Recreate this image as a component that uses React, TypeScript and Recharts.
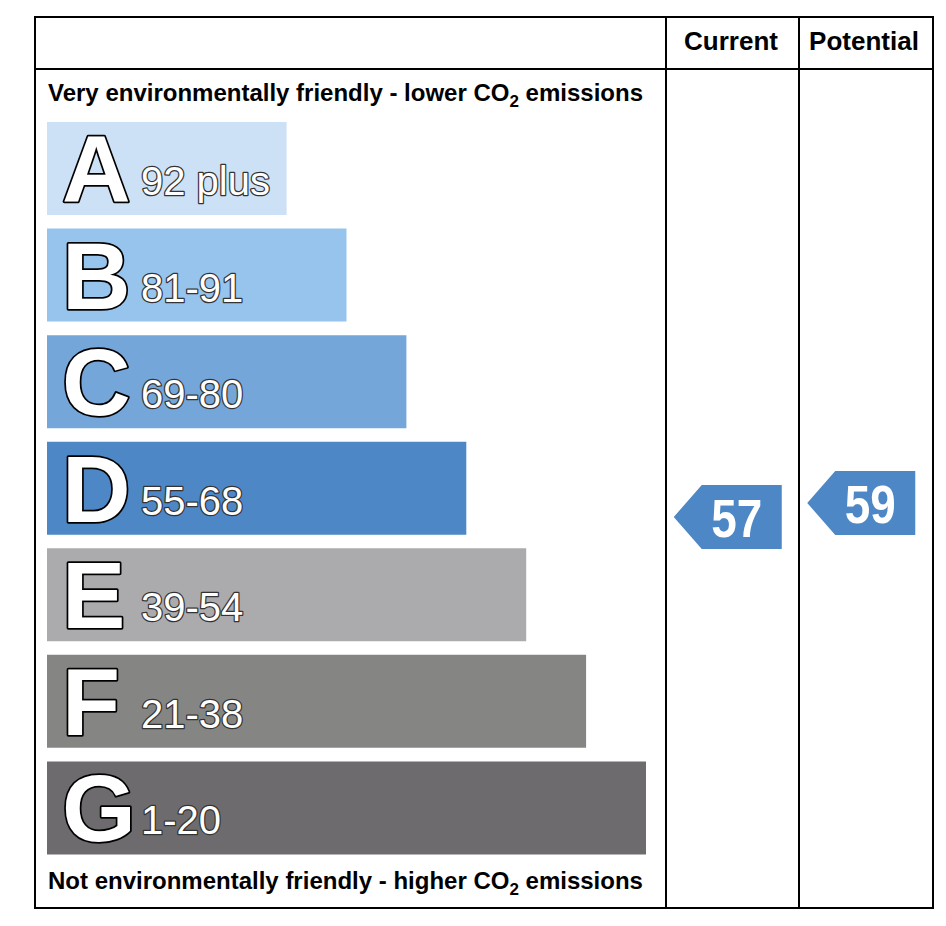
import { BarChart, Bar, XAxis, YAxis, LabelList, ScatterChart, Scatter, Customized } from 'recharts'

// rating bands, top (best) to bottom (worst)
const bands = ['A', 'B', 'C', 'D', 'E', 'F', 'G']
const bandRanges = ['92 plus', '81-91', '69-80', '55-68', '39-54', '21-38', '1-20']
const barLengths = [4, 5, 6, 7, 8, 9, 10]
const bandColors = ['#cce1f5', '#97c4ec', '#75a6d9', '#4d87c5', '#abaaac', '#858684', '#6d6b6e']

// ratings shown in the two right hand columns
const columns = ['Current', 'Potential']
const scores = [57, 59]

const FONT = '"Liberation Sans", Arial, Helvetica, sans-serif'
const W = 946
const H = 926

const barData = bands.map((band, i) => ({
  band,
  range: bandRanges[i],
  length: barLengths[i],
  fill: bandColors[i],
}))

const scoreData = columns.map((col, i) => ({ col, score: scores[i] }))

// eslint-disable-next-line @typescript-eslint/no-explicit-any
const BandLabel = (props: any) => {
  const { x, y, height, index } = props
  const bottom = y + height
  return (
    <g fontFamily={FONT}>
      <text
        x={x + 15}
        y={bottom - 13}
        fontSize={95}
        fontWeight="bold"
        fill="#fff"
        stroke="#000"
        strokeWidth={3.5}
        paintOrder="stroke"
        strokeLinejoin="round"
      >
        {bands[index]}
      </text>
      <text
        x={x + 94}
        y={bottom - 20}
        fontSize={40}
        fill="#fff"
        stroke="#333"
        strokeWidth={2.5}
        paintOrder="stroke"
        strokeLinejoin="round"
      >
        {bandRanges[index]}
      </text>
    </g>
  )
}

// eslint-disable-next-line @typescript-eslint/no-explicit-any
const ScoreArrow = (props: any) => {
  const { cx, cy, payload } = props
  const pts = [
    [cx - 59, cy],
    [cx - 31, cy - 32],
    [cx + 49, cy - 32],
    [cx + 49, cy + 32],
    [cx - 31, cy + 32],
  ]
  return (
    <g>
      <polygon points={pts.map((p) => p.join(',')).join(' ')} fill="#4d87c5" />
      <text
        x={cx + 4}
        y={cy + 20}
        textAnchor="middle"
        fontFamily={FONT}
        fontWeight="bold"
        fontSize={54}
        fill="#fff"
        textLength={51}
        lengthAdjust="spacingAndGlyphs"
      >
        {payload.score}
      </text>
    </g>
  )
}

const Frame = () => (
  <g fontFamily={FONT} fontWeight="bold">
    <rect x={35} y={17} width={898} height={891} fill="none" stroke="#000" strokeWidth={2} />
    <line x1={35} y1={69} x2={933} y2={69} stroke="#000" strokeWidth={2} />
    <line x1={666} y1={17} x2={666} y2={908} stroke="#000" strokeWidth={2} />
    <line x1={799} y1={17} x2={799} y2={908} stroke="#000" strokeWidth={2} />
    <text x={731} y={50} textAnchor="middle" fontSize={26} fill="#000">
      {columns[0]}
    </text>
    <text x={864} y={50} textAnchor="middle" fontSize={26} fill="#000">
      {columns[1]}
    </text>
    <text x={48} y={101} fontSize={24} fill="#000">
      Very environmentally friendly - lower CO
      <tspan fontSize={17} dy={6}>2</tspan>
      <tspan dy={-6}> emissions</tspan>
    </text>
    <text x={48} y={889} fontSize={24} fill="#000">
      Not environmentally friendly - higher CO
      <tspan fontSize={17} dy={6}>2</tspan>
      <tspan dy={-6}> emissions</tspan>
    </text>
  </g>
)

export default function App() {
  return (
    <div style={{ position: 'absolute', left: 0, top: 0, width: W, height: H, background: '#fff' }}>
      <div style={{ position: 'absolute', left: 0, top: 0 }}>
        <BarChart
          width={W}
          height={H}
          data={barData}
          layout="vertical"
          margin={{ top: 115, right: 300, bottom: 65, left: 47 }}
        >
          <XAxis type="number" domain={[0, 10]} hide />
          <YAxis type="category" dataKey="band" hide />
          <Customized component={Frame} />
          <Bar dataKey="length" barSize={93} isAnimationActive={false}>
            <LabelList dataKey="range" content={BandLabel} />
          </Bar>
        </BarChart>
      </div>
      <div style={{ position: 'absolute', left: 0, top: 0 }}>
        <ScatterChart
          width={W}
          height={H}
          data={scoreData}
          margin={{ top: 216, right: 13, bottom: 10, left: 666 }}
        >
          <XAxis type="category" dataKey="col" hide allowDuplicatedCategory={false} />
          <YAxis type="number" dataKey="score" domain={[0, 100]} hide />
          <Scatter data={scoreData} dataKey="score" shape={ScoreArrow} isAnimationActive={false} />
        </ScatterChart>
      </div>
    </div>
  )
}
